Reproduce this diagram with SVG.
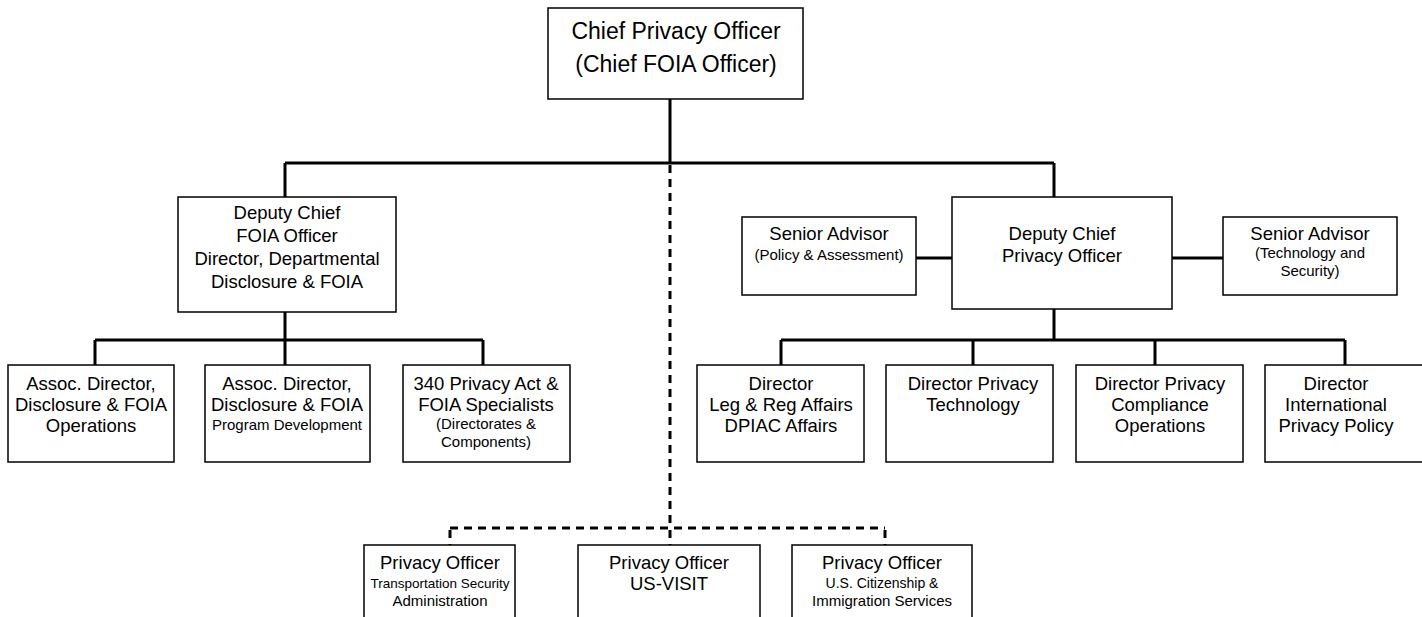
<svg xmlns="http://www.w3.org/2000/svg" width="1422" height="617" viewBox="0 0 1422 617">
<style>
.box{fill:#fff;stroke:#000;stroke-width:1.5}
.ln{fill:none;stroke:#000;stroke-width:3}
.dash{fill:none;stroke:#000;stroke-width:3;stroke-dasharray:8,6}
text{font-family:"Liberation Sans",Arial,Helvetica,sans-serif;fill:#000;text-anchor:middle}
.t22{font-size:23px}
.t18{font-size:18.5px}
.t14{font-size:15px}
</style>
<rect width="1422" height="617" fill="#fff"/>
<g id="connectors">
<path class="ln" d="M670 99V163M285 163H1054M285 163V197M1054 163V197"/>
<path class="ln" d="M285 312V340M95 340H483M95 340V365M285 340V365M483 340V365"/>
<path class="ln" d="M916 258H952M1172 258H1223"/>
<path class="ln" d="M1054 309V340M781 340H1345M781 340V365M973 340V365M1155 340V365M1345 340V365"/>
<path class="dash" d="M670 165V528"/>
<path class="dash" d="M450 528H885"/>
<path class="dash" d="M450 530V545M670 530V545M885 530V545"/>
</g>
<g id="cpo"><rect class="box" x="548" y="8" width="255" height="91"/>
<text class="t22" x="676" y="38.5">Chief Privacy Officer</text>
<text class="t22" x="676" y="72">(Chief FOIA Officer)</text></g>
<g id="dcfo"><rect class="box" x="178" y="197" width="218" height="115"/>
<text class="t18" x="287" y="219">Deputy Chief</text>
<text class="t18" x="287" y="242">FOIA Officer</text>
<text class="t18" x="287" y="265">Director, Departmental</text>
<text class="t18" x="287" y="288">Disclosure &amp; FOIA</text></g>
<g id="ad-ops"><rect class="box" x="8" y="365" width="166" height="97"/>
<text class="t18" x="91" y="390">Assoc. Director,</text>
<text class="t18" x="91" y="411">Disclosure &amp; FOIA</text>
<text class="t18" x="91" y="432">Operations</text></g>
<g id="ad-prog"><rect class="box" x="205" y="365" width="165" height="97"/>
<text class="t18" x="287" y="390">Assoc. Director,</text>
<text class="t18" x="287" y="411">Disclosure &amp; FOIA</text>
<text class="t14" x="287" y="430">Program Development</text></g>
<g id="spec"><rect class="box" x="403" y="365" width="167" height="97"/>
<text class="t18" x="486" y="390">340 Privacy Act &amp;</text>
<text class="t18" x="486" y="411">FOIA Specialists</text>
<text class="t14" x="486" y="429">(Directorates &amp;</text>
<text class="t14" x="486" y="447">Components)</text></g>
<g id="sa-policy"><rect class="box" x="742" y="217" width="174" height="78"/>
<text class="t18" x="829" y="240">Senior Advisor</text>
<text class="t14" x="829" y="260">(Policy &amp; Assessment)</text></g>
<g id="dcpo"><rect class="box" x="952" y="197" width="220" height="112"/>
<text class="t18" x="1062" y="240">Deputy Chief</text>
<text class="t18" x="1062" y="262">Privacy Officer</text></g>
<g id="sa-tech"><rect class="box" x="1223" y="217" width="174" height="78"/>
<text class="t18" x="1310" y="240">Senior Advisor</text>
<text class="t14" x="1310" y="258">(Technology and</text>
<text class="t14" x="1310" y="276">Security)</text></g>
<g id="dir-leg"><rect class="box" x="697" y="365" width="167" height="97"/>
<text class="t18" x="781" y="390">Director</text>
<text class="t18" x="781" y="411">Leg &amp; Reg Affairs</text>
<text class="t18" x="781" y="432">DPIAC Affairs</text></g>
<g id="dir-tech"><rect class="box" x="886" y="365" width="167" height="97"/>
<text class="t18" x="973" y="390">Director Privacy</text>
<text class="t18" x="973" y="411">Technology</text></g>
<g id="dir-comp"><rect class="box" x="1076" y="365" width="167" height="97"/>
<text class="t18" x="1160" y="390">Director Privacy</text>
<text class="t18" x="1160" y="411">Compliance</text>
<text class="t18" x="1160" y="432">Operations</text></g>
<g id="dir-intl"><rect class="box" x="1265" y="365" width="170" height="97"/>
<text class="t18" x="1336" y="390">Director</text>
<text class="t18" x="1336" y="411">International</text>
<text class="t18" x="1336" y="432">Privacy Policy</text></g>
<g id="po-tsa"><rect class="box" x="364" y="545" width="151" height="90"/>
<text class="t18" x="440" y="569">Privacy Officer</text>
<text class="t14" x="440" y="588" style="font-size:13.5px">Transportation Security</text>
<text class="t14" x="440" y="606">Administration</text></g>
<g id="po-visit"><rect class="box" x="578" y="545" width="182" height="90"/>
<text class="t18" x="669" y="569">Privacy Officer</text>
<text class="t18" x="669" y="590">US-VISIT</text></g>
<g id="po-uscis"><rect class="box" x="792" y="545" width="180" height="90"/>
<text class="t18" x="882" y="569">Privacy Officer</text>
<text class="t14" x="882" y="588" style="font-size:14px">U.S. Citizenship &amp;</text>
<text class="t14" x="882" y="606">Immigration Services</text></g>
</svg>
